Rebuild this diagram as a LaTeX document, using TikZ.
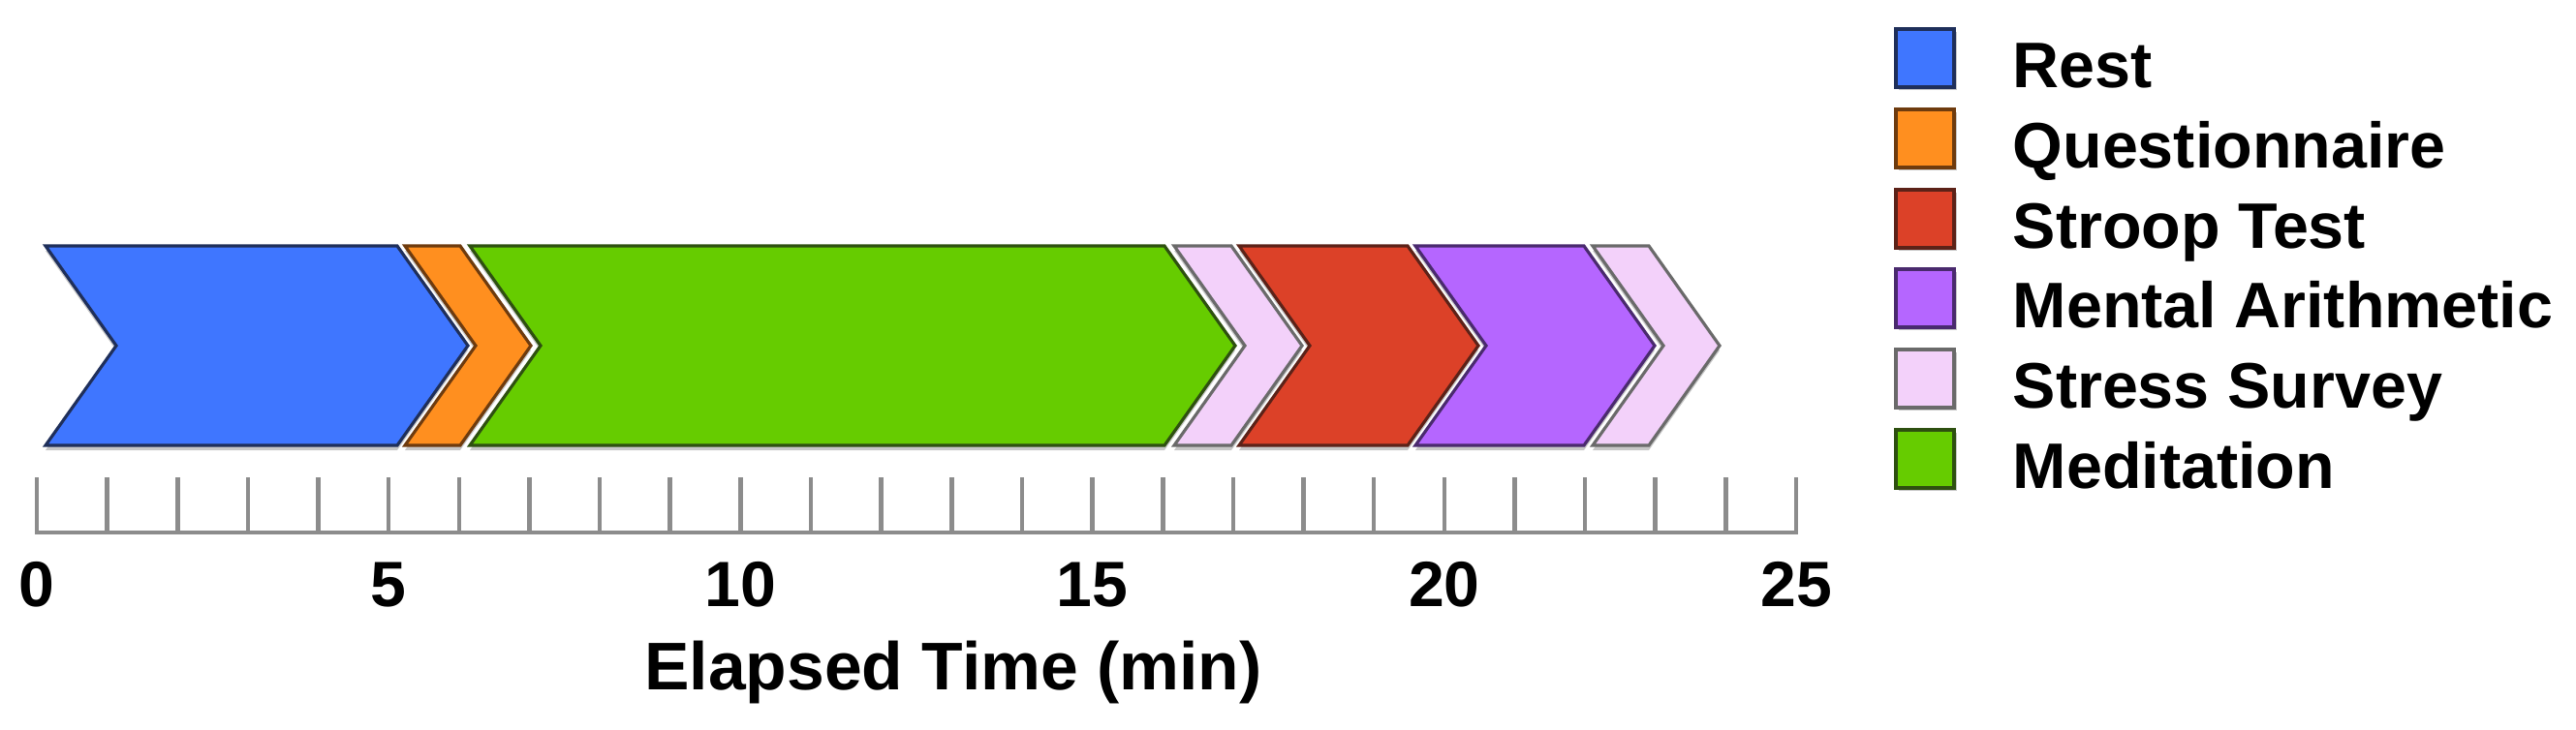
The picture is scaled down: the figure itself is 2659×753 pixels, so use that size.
\documentclass[tikz,border=0pt]{standalone}
\usepackage{fontspec}
\setmainfont{Liberation Sans}
\definecolor{restblue}{HTML}{3F76FF}
\definecolor{restdark}{HTML}{1F2F5A}
\definecolor{qorange}{HTML}{FF8F1F}
\definecolor{qdark}{HTML}{6E3B0E}
\definecolor{medgreen}{HTML}{66CC00}
\definecolor{meddark}{HTML}{2E5010}
\definecolor{spink}{HTML}{F3D1FA}
\definecolor{spinkdark}{HTML}{6A6A6A}
\definecolor{stroopred}{HTML}{DC4128}
\definecolor{stroopdark}{HTML}{5C2218}
\definecolor{mathpurple}{HTML}{B566FF}
\definecolor{mathdark}{HTML}{4A2A6E}
\definecolor{axisgray}{HTML}{8C8C8C}
\tikzset{
  chevborder/.style={line width=0.9pt, line join=miter},
  shadowfill/.style={fill=black!22},
  axisline/.style={draw=axisgray, line width=1.3pt},
  ticklab/.style={font=\fontsize{18.8}{20}\selectfont\bfseries, inner sep=0pt, anchor=base},
  axtitle/.style={font=\fontsize{19.8}{22}\selectfont\bfseries, inner sep=0pt, anchor=base},
  legtext/.style={font=\fontsize{18.9}{21}\selectfont\bfseries, inner sep=0pt, anchor=base west},
  legbox/.style={minimum width=0.6cm, minimum height=0.6cm, inner sep=0pt, line width=0.9pt},
}
% #1 left x, #2 right x, #3 fill, #4 border
\newcommand\chevshape[4]{%
  \fill[shadowfill] (#1,259) -- (#2,259) -- ({#2+73},362) -- (#2,465) -- (#1,465) -- ({#1+73},362) -- cycle;
  \filldraw[chevborder, fill=#3, draw=#4] (#1,254) -- (#2,254) -- ({#2+73},357) -- (#2,460) -- (#1,460) -- ({#1+73},357) -- cycle;
}
% #1 name, #2 y centre, #3 fill, #4 border, #5 text
\newcommand\legentry[5]{%
  \fill[shadowfill] (1960,{#2-27}) rectangle (2020,{#2+33});
  \node[legbox, fill=#3, draw=#4] (#1) at (1987,#2) {};
  \node[legtext] (#1txt) at (2077,{#2+30}) {#5};
}
\begin{document}
\begin{tikzpicture}[x=0.01cm, y=-0.01cm]
\useasboundingbox (0,0) rectangle (2659,753);
% chevrons
\chevshape{47}{410}{restblue}{restdark}
\chevshape{418}{475}{qorange}{qdark}
\chevshape{485}{1202}{medgreen}{meddark}
\chevshape{1212}{1271}{spink}{spinkdark}
\chevshape{1279}{1453}{stroopred}{stroopdark}
\chevshape{1461}{1635}{mathpurple}{mathdark}
\chevshape{1644}{1702}{spink}{spinkdark}
% axis
\coordinate (ax0) at (38,550);
\coordinate (ax25) at (1854,550);
\draw[axisline, line cap=rect] (ax0) -- (ax25);
\foreach \i in {0,...,25} {
  \draw[axisline] ({38+72.64*\i},550) -- ({38+72.64*\i},493);
}
\foreach \v in {0,5,10,15,20,25} {
  \node[ticklab] (lab\v) at ({38+72.64*\v},626) {\v};
}
\node[axtitle] (title) at (984,712) {Elapsed Time (min)};
% legend
\legentry{lrest}{60}{restblue}{restdark}{Rest}
\legentry{lq}{143}{qorange}{qdark}{Questionnaire}
\legentry{lstroop}{226}{stroopred}{stroopdark}{Stroop Test}
\legentry{lmath}{308}{mathpurple}{mathdark}{Mental Arithmetic}
\legentry{lstress}{391}{spink}{spinkdark}{Stress Survey}
\legentry{lmed}{474}{medgreen}{meddark}{Meditation}
\end{tikzpicture}
\end{document}
